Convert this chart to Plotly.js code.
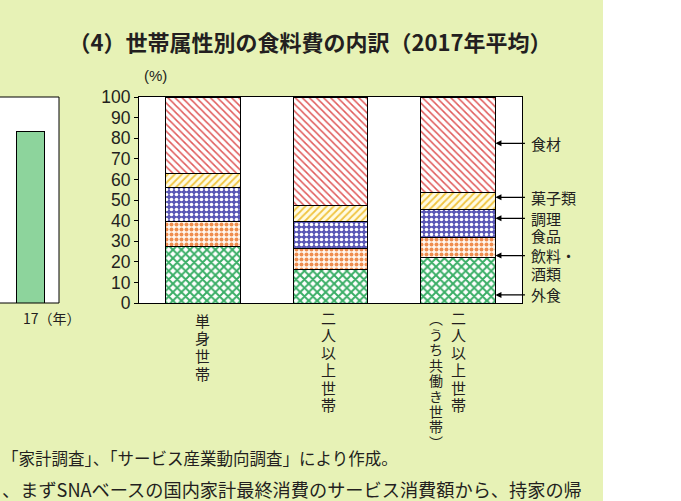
<!DOCTYPE html>
<html>
<head>
<meta charset="utf-8">
<script src="https://cdn.plot.ly/plotly-3.0.1.min.js"></script>
<style>html,body{margin:0;padding:0;background:#e7f2b6;}#chart{width:681px;height:501px;}</style>
</head>
<body>
<div id="chart"></div>
<script>
// ---- data ----
const categories = ['単身世帯', '二人以上世帯', '二人以上世帯（うち共働き世帯）'];
const seriesNames = ['外食', '飲料・酒類', '調理食品', '菓子類', '食材'];
const gaishoku = [27.6, 16.5, 21.9];
const inryo    = [12.1, 10.1, 9.9];
const chori    = [16.4, 13.1, 13.7];
const kashi    = [6.8, 7.7, 8.2];
const shokuzai = [37.1, 52.6, 46.3];
const yTicks = [0, 10, 20, 30, 40, 50, 60, 70, 80, 90, 100];
const labelLines = [['外食'], ['飲料・', '酒類'], ['調理', '食品'], ['菓子類'], ['食材']];
const labelY = [3.9, 23.0, 41.1, 51.3, 77.5];
const leftYears = ['17'];
const leftValues = [83.3];
const categoryColumns = [['単身世帯'], ['二人以上世帯'], ['二人以上世帯', '︵うち共働き世帯︶']];
const title = '（4）世帯属性別の食料費の内訳（2017年平均）';
const notes = ['「家計調査」、「サービス産業動向調査」により作成。',
               '、まずSNAベースの国内家計最終消費のサービス消費額から、持家の帰'];

// ---- styles ----
const W = 681, H = 501;
const plotL = 139, plotR = 522, plotT = 97, plotB = 303;
const ink = '#231f20';
const cjk = 'Noto Sans CJK JP, Noto Sans, sans-serif';
const barWidth = 0.584;
const patterns = [
  {shape: 'x', fgcolor: '#3aae66', bgcolor: '#ffffff', size: 6, solidity: 0.55},
  {shape: '.', fgcolor: '#ef8d4f', bgcolor: '#fff7ee', size: 5, solidity: 0.5},
  {shape: '.', fgcolor: '#ffffff', bgcolor: '#5a58b6', size: 5, solidity: 0.4},
  {shape: '/', fgcolor: '#f0c440', bgcolor: '#fffbe2', size: 5, solidity: 0.35},
  {shape: '\\', fgcolor: '#e05a5a', bgcolor: '#ffffff', size: 5, solidity: 0.3}
];
const seriesValues = [gaishoku, inryo, chori, kashi, shokuzai];

const traces = seriesValues.map((vals, i) => ({
  type: 'bar', x: categories, y: vals, name: seriesNames[i],
  width: barWidth, xaxis: 'x', yaxis: 'y',
  marker: {color: patterns[i].bgcolor, pattern: patterns[i], line: {color: '#000', width: 1}},
  hoverinfo: 'skip'
}));
traces.push({
  type: 'bar', x: leftYears, y: leftValues, xaxis: 'x2', yaxis: 'y2', width: 0.6,
  marker: {color: '#8dd49c', line: {color: '#000', width: 1}}, hoverinfo: 'skip'
});

const px = v => v / W;
const py = v => (plotB - v) / (plotB - plotT);

const annotations = [];
// category labels (vertical, one glyph per row)
const colX = [[0], [1], [2, 2]];
const colShift = [[0], [-2], [0, -22]];
const colTop = [[320], [317], [317, 318]];
const colPitch = [[17.8], [17.5], [17.5, 15.5]];
const colSize = [[15], [15], [15, 14]];
categoryColumns.forEach((cols, i) => {
  cols.forEach((txt, j) => {
    Array.from(txt).forEach((ch, k) => {
      annotations.push({
        xref: 'x', yref: 'paper', x: colX[i][j], xshift: colShift[i][j],
        y: py(colTop[i][j] + k * colPitch[i][j]),
        xanchor: 'center', yanchor: 'middle', showarrow: false, text: ch,
        font: {family: cjk, size: colSize[i][j], color: ink}
      });
    });
  });
});
// arrows and labels
labelLines.forEach((lines, i) => {
  annotations.push({
    xref: 'x', yref: 'y', x: 2 + barWidth / 2, y: labelY[i], ax: 31, ay: 0,
    text: '', showarrow: true, arrowhead: 2, arrowsize: 1, arrowwidth: 1.2, arrowcolor: '#000', standoff: 0
  });
  lines.forEach((t, k) => {
    annotations.push({
      xref: 'paper', yref: 'y', x: px(529), y: labelY[i], yshift: -k * 17.5,
      xanchor: 'left', yanchor: 'middle', showarrow: false, text: t,
      font: {family: cjk, size: 15, color: ink}
    });
  });
});
// (%) unit
annotations.push({xref: 'paper', yref: 'paper', x: px(155), y: py(75), xanchor: 'center', yanchor: 'middle',
  showarrow: false, text: '(%)', font: {family: 'Liberation Sans, Arial, sans-serif', size: 15, color: ink}});
// left chart year label
annotations.push({xref: 'paper', yref: 'paper', x: px(21), y: py(318), xanchor: 'left', yanchor: 'middle',
  showarrow: false, text: leftYears[0] + '（年）', font: {family: cjk, size: 14, color: ink}});
// notes
annotations.push({xref: 'paper', yref: 'paper', x: 0, y: py(458), xanchor: 'left', yanchor: 'middle',
  showarrow: false, text: notes[0], font: {family: cjk, size: 16.5, color: ink}});
annotations.push({xref: 'paper', yref: 'paper', x: 0, y: py(489), xanchor: 'left', yanchor: 'middle',
  showarrow: false, text: notes[1], font: {family: cjk, size: 18.2, color: ink}});

const shapes = [
  {type: 'rect', xref: 'paper', yref: 'paper', x0: px(603), x1: 1.02, y0: -1.2, y1: 1.8,
   fillcolor: '#ffffff', line: {width: 0}, layer: 'below'},
  {type: 'path', xref: 'x2 domain', yref: 'y2 domain', path: 'M -0.05 1 L 1 1 L 1 0 L -0.05 0',
   line: {color: '#000', width: 1}, layer: 'above'}
];

const layout = {
  width: W, height: H,
  margin: {l: 0, r: 0, t: plotT, b: H - plotB, pad: 0},
  paper_bgcolor: '#e7f2b6', plot_bgcolor: '#ffffff',
  barmode: 'stack', showlegend: false, hovermode: false,
  title: {text: title, x: px(310), xanchor: 'center', y: 1 - 43 / H, yanchor: 'middle',
    font: {family: cjk, size: 22, color: ink, weight: 700}},
  xaxis: {domain: [px(plotL), px(plotR)], type: 'category', range: [-0.5, 2.5],
    showticklabels: false, ticks: '', showline: true, linecolor: '#000', linewidth: 1, mirror: true,
    showgrid: false, zeroline: false, fixedrange: true},
  yaxis: {range: [0, 100], tickvals: yTicks, ticktext: yTicks.map(String), ticks: 'outside', ticklen: 4,
    tickcolor: '#000', showline: true, linecolor: '#000', linewidth: 1, mirror: true, showgrid: false,
    zeroline: false, fixedrange: true,
    tickfont: {family: 'Liberation Sans, Arial, sans-serif', size: 17.5, color: ink}},
  xaxis2: {domain: [0, px(59)], anchor: 'y2', type: 'category', range: [-0.649, 0.615],
    showticklabels: false, ticks: '', showline: false, showgrid: false, zeroline: false, fixedrange: true},
  yaxis2: {anchor: 'x2', range: [0, 100], showticklabels: false, ticks: '', showline: false,
    showgrid: false, zeroline: false, fixedrange: true},
  annotations: annotations,
  shapes: shapes
};

Plotly.newPlot('chart', traces, layout, {displayModeBar: false, staticPlot: true});
</script>
</body>
</html>
